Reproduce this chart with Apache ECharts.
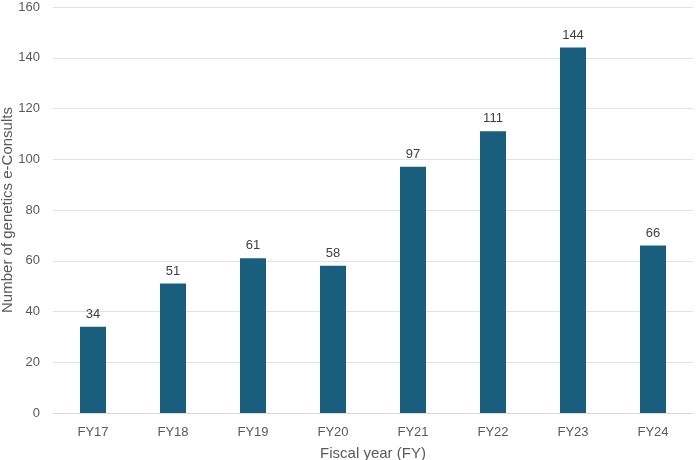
<!DOCTYPE html>
<html>
<head>
<meta charset="utf-8">
<script src="https://cdn.jsdelivr.net/npm/echarts@6/dist/echarts.min.js"></script>
<style>
  html, body { margin: 0; padding: 0; background: #fff; }
  #chart { width: 696px; height: 460px; }
</style>
</head>
<body>
<div id="chart"></div>
<script>
// fiscal years and e-consult counts
const years = ["FY17", "FY18", "FY19", "FY20", "FY21", "FY22", "FY23", "FY24"];
const consults = [34, 51, 61, 58, 97, 111, 144, 66];

const chart = echarts.init(document.getElementById("chart"));
const textColor = "#595959";
const font = "Liberation Sans, Arial, sans-serif";

chart.setOption({
  animation: false,
  grid: { left: 53, right: 3, top: 7, bottom: 47, outerBoundsMode: "none", containLabel: false },
  xAxis: {
    type: "category",
    data: years,
    name: "Fiscal year (FY)",
    nameLocation: "middle",
    nameGap: 33,
    nameMoveOverlap: false,
    nameTextStyle: { color: textColor, fontSize: 15, fontFamily: font },
    axisLine: { lineStyle: { color: "#d9d9d9" } },
    axisTick: { show: false },
    axisLabel: { color: textColor, fontSize: 13, fontFamily: font, margin: 13 }
  },
  yAxis: {
    type: "value",
    min: 0,
    max: 160,
    interval: 20,
    name: "Number of genetics e-Consults",
    nameLocation: "middle",
    nameGap: 38,
    nameMoveOverlap: false,
    nameTextStyle: { color: textColor, fontSize: 15, fontFamily: font },
    axisLine: { show: false },
    axisTick: { show: false },
    axisLabel: { color: textColor, fontSize: 13, fontFamily: font, margin: 13 },
    splitLine: { lineStyle: { color: "#e3e3e3" } }
  },
  series: [{
    type: "bar",
    data: consults,
    barWidth: 26,
    itemStyle: { color: "#1a5e7e" },
    label: {
      show: true,
      position: "top",
      distance: 6,
      color: "#404040",
      fontSize: 13,
      fontFamily: font
    }
  }]
});
</script>
</body>
</html>
